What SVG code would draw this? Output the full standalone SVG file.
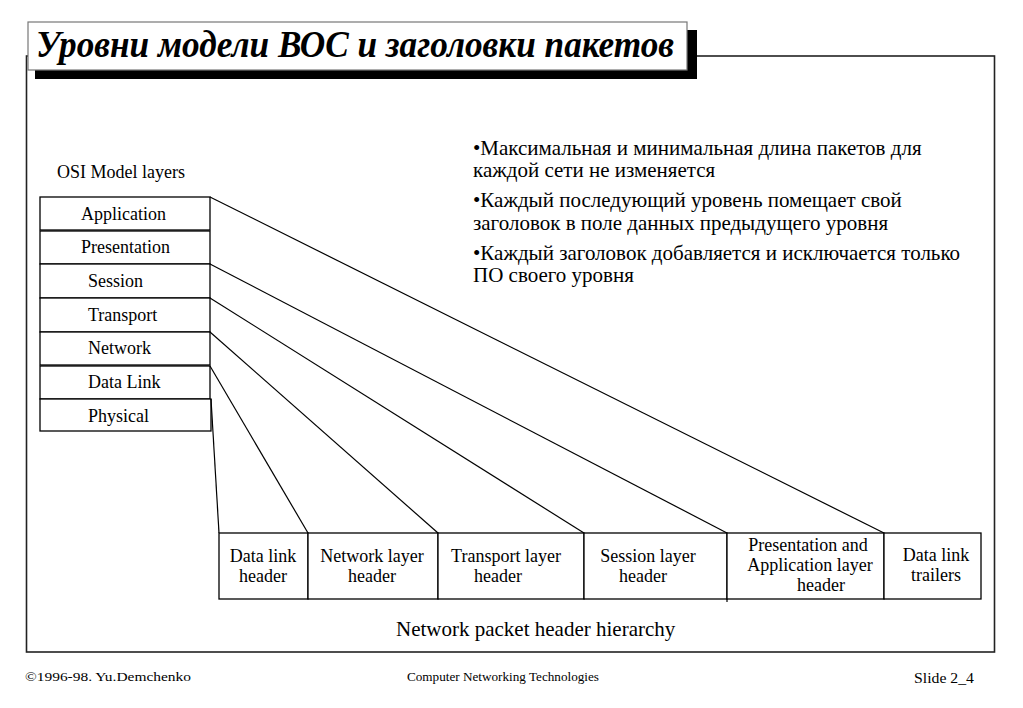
<svg xmlns="http://www.w3.org/2000/svg" width="1023" height="708" viewBox="0 0 1023 708">
<style>
  .t { font-family: "Liberation Serif", "Times New Roman", serif; fill: #000; }
  .lbl { font-size: 18px; }
  .bul { font-size: 21px; }
  .box { fill: #fff; stroke: #000; stroke-width: 1.3; }
  .conn { stroke: #000; stroke-width: 1.2; fill: none; }
  .mid { text-anchor: middle; }
</style>
<rect x="0" y="0" width="1023" height="708" fill="#fff"/>
<!-- frame -->
<rect x="26.5" y="56" width="968" height="596" fill="none" stroke="#222" stroke-width="1.6"/>
<!-- title -->
<g id="title">
  <rect x="35" y="30" width="662" height="49" fill="#000"/>
  <rect x="28" y="22" width="659" height="48" fill="#fff" stroke="#777" stroke-width="1.2"/>
  <text class="t" x="36" y="57" font-size="37" font-weight="bold" font-style="italic" textLength="638" lengthAdjust="spacingAndGlyphs">Уровни модели ВОС и заголовки пакетов</text>
</g>
<text class="t lbl" x="57" y="178">OSI Model layers</text>
<!-- OSI layers -->
<g id="layer-application"><rect class="box" x="40" y="197" width="170" height="33"/><text class="t lbl" x="81" y="220">Application</text></g>
<g id="layer-presentation"><rect class="box" x="40" y="231" width="170" height="33"/><text class="t lbl" x="81" y="253">Presentation</text></g>
<g id="layer-session"><rect class="box" x="40" y="264" width="170" height="34"/><text class="t lbl" x="88" y="287">Session</text></g>
<g id="layer-transport"><rect class="box" x="40" y="298" width="170" height="34"/><text class="t lbl" x="88" y="321">Transport</text></g>
<g id="layer-network"><rect class="box" x="40" y="332" width="170" height="33"/><text class="t lbl" x="88" y="354">Network</text></g>
<g id="layer-datalink"><rect class="box" x="40" y="366" width="170" height="33"/><text class="t lbl" x="88" y="388">Data Link</text></g>
<g id="layer-physical"><rect class="box" x="40" y="399" width="171" height="32"/><text class="t lbl" x="88" y="422">Physical</text></g>
<!-- bullets -->
<g id="bullets">
  <text class="t bul" x="473" y="155">•Максимальная и минимальная длина пакетов для</text>
  <text class="t bul" x="473" y="177">каждой сети не изменяется</text>
  <text class="t bul" x="473" y="207">•Каждый последующий уровень помещает свой</text>
  <text class="t bul" x="473" y="230">заголовок в поле данных предыдущего уровня</text>
  <text class="t bul" x="473" y="260">•Каждый заголовок добавляется и исключается только</text>
  <text class="t bul" x="473" y="282">ПО своего уровня</text>
</g>
<!-- connectors -->
<g id="connectors">
  <line class="conn" x1="210" y1="197" x2="884" y2="533"/>
  <line class="conn" x1="210" y1="264" x2="727" y2="533"/>
  <line class="conn" x1="210" y1="298" x2="584" y2="533"/>
  <line class="conn" x1="210" y1="332" x2="438" y2="533"/>
  <line class="conn" x1="210" y1="366" x2="308" y2="533"/>
  <line class="conn" x1="211" y1="399" x2="219" y2="533"/>
</g>
<!-- packet -->
<g id="hdr-datalink"><rect class="box" x="219" y="533" width="89" height="66"/><text class="t lbl mid" x="263" y="562">Data link</text><text class="t lbl mid" x="263" y="582">header</text></g>
<g id="hdr-network"><rect class="box" x="308" y="533" width="130" height="66"/><text class="t lbl mid" x="372" y="562">Network layer</text><text class="t lbl mid" x="372" y="582">header</text></g>
<g id="hdr-transport"><rect class="box" x="438" y="533" width="146" height="66"/><text class="t lbl mid" x="506" y="562">Transport layer</text><text class="t lbl mid" x="498" y="582">header</text></g>
<g id="hdr-session"><rect class="box" x="584" y="533" width="143" height="66"/><text class="t lbl mid" x="648" y="562">Session layer</text><text class="t lbl mid" x="643" y="582">header</text></g>
<g id="hdr-presapp"><rect class="box" x="727" y="533" width="157" height="66"/><line class="conn" x1="727" y1="599" x2="727" y2="602"/><text class="t lbl mid" x="808" y="551">Presentation and</text><text class="t lbl mid" x="810" y="571">Application layer</text><text class="t lbl mid" x="821" y="591">header</text></g>
<g id="trl-datalink"><rect class="box" x="884" y="533" width="97" height="66"/><text class="t lbl mid" x="936" y="561">Data link</text><text class="t lbl mid" x="936" y="581">trailers</text></g>
<text class="t bul" x="396" y="636">Network packet header hierarchy</text>
<!-- footer -->
<text class="t" x="25" y="681" font-size="13" textLength="166" lengthAdjust="spacingAndGlyphs">©1996-98. Yu.Demchenko</text>
<text class="t" x="407" y="681" font-size="13" textLength="192" lengthAdjust="spacingAndGlyphs">Computer Networking Technologies</text>
<text class="t" x="914" y="683" font-size="15" textLength="60" lengthAdjust="spacingAndGlyphs">Slide 2_4</text>
</svg>
